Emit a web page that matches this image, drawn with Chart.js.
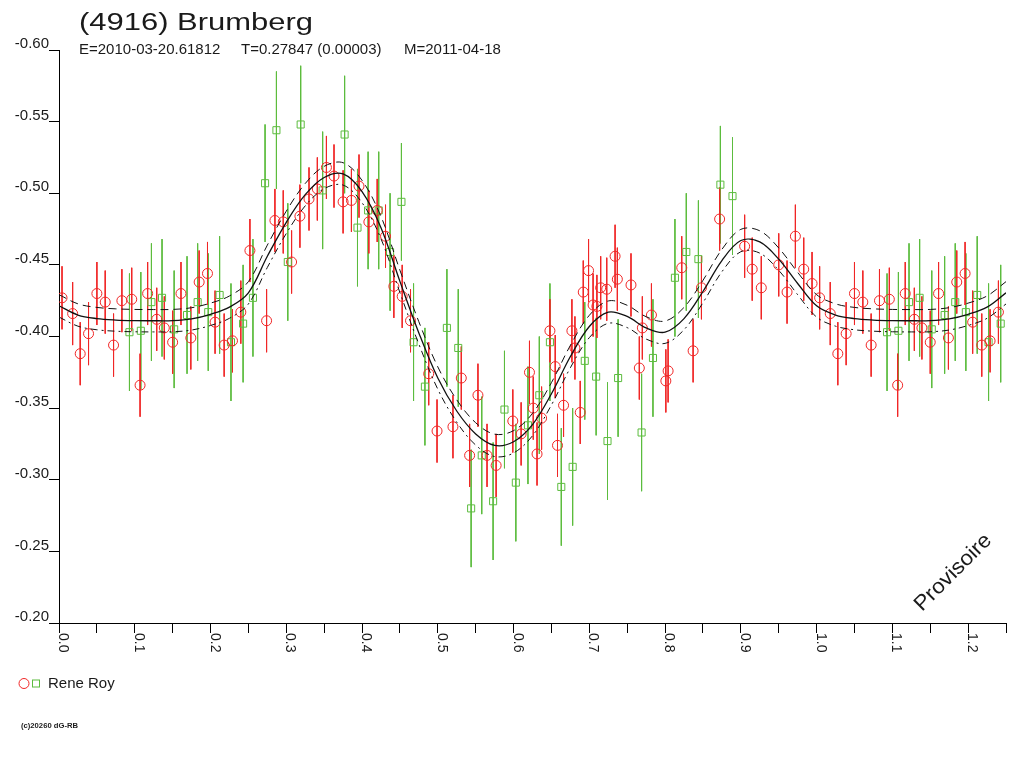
<!DOCTYPE html>
<html>
<head>
<meta charset="utf-8">
<title>(4916) Brumberg</title>
<script src="https://cdn.jsdelivr.net/npm/chart.js@4/dist/chart.umd.min.js"></script>
<style>
  html, body { margin: 0; padding: 0; background: #fff; }
  #cadre { width: 1024px; height: 768px; }
</style>
</head>
<body>
<div id="cadre"><canvas id="courbe" width="1024" height="768"></canvas></div>
<script>

// Textes du graphique.
const titre = '(4916) Brumberg'
const sousTitre = ['E=2010-03-20.61812', 'T=0.27847 (0.00003)', 'M=2011-04-18']
const observateur = 'Rene Roy'
const copyright = '(c)20260 dG-RB'
const filigrane = 'Provisoire'

// Graduations.
const xTicks = ['0.0', '0.1', '0.2', '0.3', '0.4', '0.5', '0.6', '0.7', '0.8', '0.9', '1.0', '1.1', '1.2']
const yTicks = ['-0.60', '-0.55', '-0.50', '-0.45', '-0.40', '-0.35', '-0.30', '-0.25', '-0.20']

// Mesures (cercles rouges).
const redPhase = [
    0.004, 0.018, 0.028, 0.039, 0.050, 0.061, 0.072, 0.083, 0.096, 0.107,
    0.117, 0.129, 0.139, 0.150, 0.161, 0.174, 0.185, 0.196, 0.206, 0.218,
    0.229, 0.240, 0.252, 0.274, 0.285, 0.296, 0.307, 0.318, 0.330, 0.341,
    0.353, 0.363, 0.375, 0.386, 0.396, 0.409, 0.420, 0.431, 0.442, 0.453,
    0.464, 0.488, 0.499, 0.520, 0.531, 0.542, 0.553, 0.565, 0.577, 0.599,
    0.610, 0.621, 0.626, 0.631, 0.637, 0.648, 0.655, 0.658, 0.666, 0.677,
    0.681, 0.688, 0.692, 0.699, 0.705, 0.710, 0.715, 0.723, 0.734, 0.737,
    0.755, 0.766, 0.770, 0.782, 0.801, 0.804, 0.822, 0.837, 0.848, 0.872,
    0.905, 0.915, 0.927, 0.950, 0.961, 0.972, 0.983, 0.994
]
const redMag = [
    -0.427, -0.416, -0.388, -0.402, -0.430, -0.424, -0.394, -0.425, -0.426, -0.366,
    -0.430, -0.412, -0.406, -0.396, -0.430, -0.399, -0.438, -0.444, -0.410, -0.394,
    -0.397, -0.417, -0.460, -0.411, -0.481, -0.480, -0.452, -0.484, -0.496, -0.503,
    -0.518, -0.512, -0.494, -0.495, -0.505, -0.480, -0.488, -0.470, -0.435, -0.428,
    -0.411, -0.374, -0.334, -0.337, -0.371, -0.317, -0.359, -0.317, -0.310, -0.341,
    -0.332, -0.375, -0.350, -0.318, -0.343, -0.404, -0.379, -0.324, -0.352, -0.404,
    -0.392, -0.347, -0.431, -0.446, -0.422, -0.421, -0.434, -0.433, -0.456, -0.440,
    -0.436, -0.378, -0.406, -0.415, -0.369, -0.376, -0.448, -0.390, -0.434, -0.482,
    -0.463, -0.447, -0.434, -0.450, -0.431, -0.470, -0.447, -0.437
]
const redErr = 0.022

// Mesures (carrés verts).
const greenPhase = [
    0.093, 0.108, 0.122, 0.136, 0.152, 0.169, 0.183, 0.197, 0.212, 0.227,
    0.243, 0.256, 0.272, 0.287, 0.302, 0.319, 0.348, 0.377, 0.394, 0.408,
    0.422, 0.437, 0.452, 0.468, 0.483, 0.512, 0.527, 0.544, 0.558, 0.573,
    0.588, 0.603, 0.619, 0.634, 0.648, 0.663, 0.678, 0.694, 0.709, 0.724,
    0.738, 0.769, 0.784, 0.813, 0.828, 0.844, 0.873, 0.889
]
const greenMag = [
    -0.403, -0.404, -0.424, -0.427, -0.405, -0.415, -0.424, -0.417, -0.429, -0.396,
    -0.409, -0.427, -0.507, -0.544, -0.452, -0.548, -0.502, -0.541, -0.476, -0.488,
    -0.488, -0.459, -0.494, -0.396, -0.365, -0.406, -0.392, -0.280, -0.317, -0.285,
    -0.349, -0.298, -0.338, -0.359, -0.396, -0.295, -0.309, -0.383, -0.372, -0.327,
    -0.371, -0.333, -0.385, -0.441, -0.459, -0.454, -0.506, -0.498
]
const greenErr = 0.041

// Courbe ajustée.
const fitPhase = [
    0.000, 0.025, 0.050, 0.075, 0.100, 0.125, 0.150, 0.175, 0.200, 0.225,
    0.250, 0.275, 0.300, 0.325, 0.350, 0.375, 0.400, 0.425, 0.450, 0.475,
    0.500, 0.525, 0.550, 0.575, 0.600, 0.625, 0.650, 0.675, 0.700, 0.725,
    0.750, 0.775, 0.800, 0.825, 0.850, 0.875, 0.900, 0.925, 0.950, 0.975,
    1.000, 1.025, 1.050, 1.075, 1.100, 1.125, 1.150, 1.175, 1.200, 1.225, 1.250
]
const fitMag = [
    -0.4214, -0.4150, -0.4125, -0.4115, -0.4111, -0.4110, -0.4111, -0.4123, -0.4155, -0.4205,
    -0.4305, -0.4560, -0.4797, -0.4990, -0.5110, -0.5135, -0.5012, -0.4760, -0.4385, -0.4025,
    -0.3710, -0.3480, -0.3320, -0.3240, -0.3265, -0.3385, -0.3600, -0.3860, -0.4070, -0.4170,
    -0.4140, -0.4060, -0.4030, -0.4125, -0.4314, -0.4530, -0.4670, -0.4660, -0.4540, -0.4370,
    -0.4214, -0.4150, -0.4125, -0.4115, -0.4111, -0.4110, -0.4111, -0.4123, -0.4155, -0.4205, -0.4305
]
const fitSigma = 0.0078

const rouge = '#f02626'
const vert = '#5cbc3e'
const police = '"Liberation Sans", Arial, sans-serif'

// Repliement en phase : on redessine au-delà de 1.0 jusqu'à 1.25.
function plier(phases, mags){

    let pts = []

    phases.forEach((p, i) => {

        pts.push({x: p, y: mags[i]})

        if(p + 1 <= 1.25) pts.push({x: p + 1, y: mags[i]})

    })

    return pts

}

function barres(points, err){

    let segs = []

    points.forEach(pt => {

        segs.push({x: pt.x, y: pt.y - err})
        segs.push({x: pt.x, y: pt.y + err})
        segs.push({x: pt.x, y: null})

    })

    return segs

}

const pointsRouges = plier(redPhase, redMag)
const pointsVerts = plier(greenPhase, greenMag)

const fit = fitPhase.map((p, i) => ({x: p, y: fitMag[i]}))
const fitHaut = fitPhase.map((p, i) => ({x: p, y: fitMag[i] - fitSigma}))
const fitBas = fitPhase.map((p, i) => ({x: p, y: fitMag[i] + fitSigma}))

// Textes, graduations tournées et légende.
const textes = {

    id: 'textes',

    afterDraw(chart){

        const ctx = chart.ctx
        const sx = chart.scales.x

        ctx.save()
        ctx.fillStyle = '#1a1a1a'

        // Titre, étiré en largeur comme l'original.
        ctx.font = '23px ' + police
        ctx.textBaseline = 'alphabetic'
        ctx.textAlign = 'left'
        let w = ctx.measureText(titre).width
        ctx.save()
        ctx.translate(79, 29.5)
        ctx.scale(234 / w, 1)
        ctx.fillText(titre, 0, 0)
        ctx.restore()

        // Sous-titre.
        ctx.font = '15px ' + police
        const posSous = [79, 241, 404]
        sousTitre.forEach((t, i) => ctx.fillText(t, posSous[i], 54))

        // Graduations de l'axe des phases.
        ctx.font = '14px ' + police
        xTicks.forEach(t => {

            const px = sx.getPixelForValue(parseFloat(t))

            ctx.save()
            ctx.translate(px, chart.chartArea.bottom + 10)
            ctx.rotate(Math.PI / 2)
            ctx.textBaseline = 'alphabetic'
            ctx.fillText(t, 0, 0)
            ctx.restore()

        })

        // Provisoire.
        ctx.font = '21px ' + police
        w = ctx.measureText(filigrane).width
        ctx.save()
        ctx.translate(922, 612)
        ctx.rotate(-Math.PI / 4)
        ctx.scale(100 / w, 1)
        ctx.fillText(filigrane, 0, 0)
        ctx.restore()

        // Légende.
        ctx.lineWidth = 1
        ctx.strokeStyle = rouge
        ctx.beginPath()
        ctx.arc(24, 683.5, 5, 0, Math.PI * 2)
        ctx.stroke()
        ctx.strokeStyle = vert
        ctx.strokeRect(32.5, 680, 7, 7)

        ctx.font = '15px ' + police
        ctx.textBaseline = 'middle'
        ctx.fillText(observateur, 48, 684)

        // Copyright.
        ctx.font = 'bold 8px ' + police
        w = ctx.measureText(copyright).width
        ctx.save()
        ctx.translate(21, 726)
        ctx.scale(57 / w, 1)
        ctx.fillText(copyright, 0, 0)
        ctx.restore()

        ctx.restore()

    }

}

const ctx_courbe = document.getElementById('courbe')

let graphique = new Chart(ctx_courbe, {

    type: 'scatter',

    data: {

        datasets: [

            {
                type: 'line',
                data: fit,
                borderColor: '#111',
                borderWidth: 1.3,
                pointRadius: 0,
                tension: 0.35,
                order: 1
            },

            {
                type: 'line',
                data: fitHaut,
                borderColor: '#111',
                borderWidth: 1,
                borderDash: [8, 5],
                pointRadius: 0,
                tension: 0.35,
                order: 1
            },

            {
                type: 'line',
                data: fitBas,
                borderColor: '#111',
                borderWidth: 1,
                borderDash: [7, 4, 2, 4],
                pointRadius: 0,
                tension: 0.35,
                order: 1
            },

            {
                data: pointsRouges,
                pointStyle: 'circle',
                pointRadius: 5,
                borderColor: rouge,
                backgroundColor: 'rgba(0,0,0,0)',
                borderWidth: 1,
                order: 3
            },

            {
                data: pointsVerts,
                pointStyle: 'rect',
                pointRadius: 5,
                borderColor: vert,
                backgroundColor: 'rgba(0,0,0,0)',
                borderWidth: 1,
                order: 4
            },

            {
                type: 'line',
                data: barres(pointsRouges, redErr),
                borderColor: rouge,
                borderWidth: 1,
                pointRadius: 0,
                spanGaps: false,
                order: 5
            },

            {
                type: 'line',
                data: barres(pointsVerts, greenErr),
                borderColor: vert,
                borderWidth: 1,
                pointRadius: 0,
                spanGaps: false,
                order: 6
            }

        ]

    },

    options: {

        responsive: false,
        animation: false,
        devicePixelRatio: 1,
        events: [],

        layout: {
            padding: {top: 50, right: 18, bottom: 0, left: 0}
        },

        plugins: {
            legend: {display: false},
            tooltip: {enabled: false},
            title: {display: false}
        },

        scales: {

            x: {
                type: 'linear',
                position: 'bottom',
                min: 0,
                max: 1.25,
                ticks: {display: false, stepSize: 0.05},
                grid: {drawOnChartArea: false, drawTicks: true, tickLength: 10, color: '#000', lineWidth: 1},
                border: {display: true, color: '#000', width: 1},
                afterFit: s => { s.height = 145 }
            },

            y: {
                type: 'linear',
                min: -0.6,
                max: -0.2,
                reverse: true,
                ticks: {
                    stepSize: 0.05,
                    padding: 0,
                    labelOffset: -6,
                    color: '#1a1a1a',
                    font: {family: police, size: 15},
                    callback: v => yTicks.find(t => Math.abs(parseFloat(t) - v) < 1e-6) || ''
                },
                grid: {drawOnChartArea: false, drawTicks: true, tickLength: 10, color: '#000', lineWidth: 1},
                border: {display: true, color: '#000', width: 1},
                afterFit: s => { s.width = 59 }
            }

        }

    },

    plugins: [textes]

})

</script>
</body>
</html>
